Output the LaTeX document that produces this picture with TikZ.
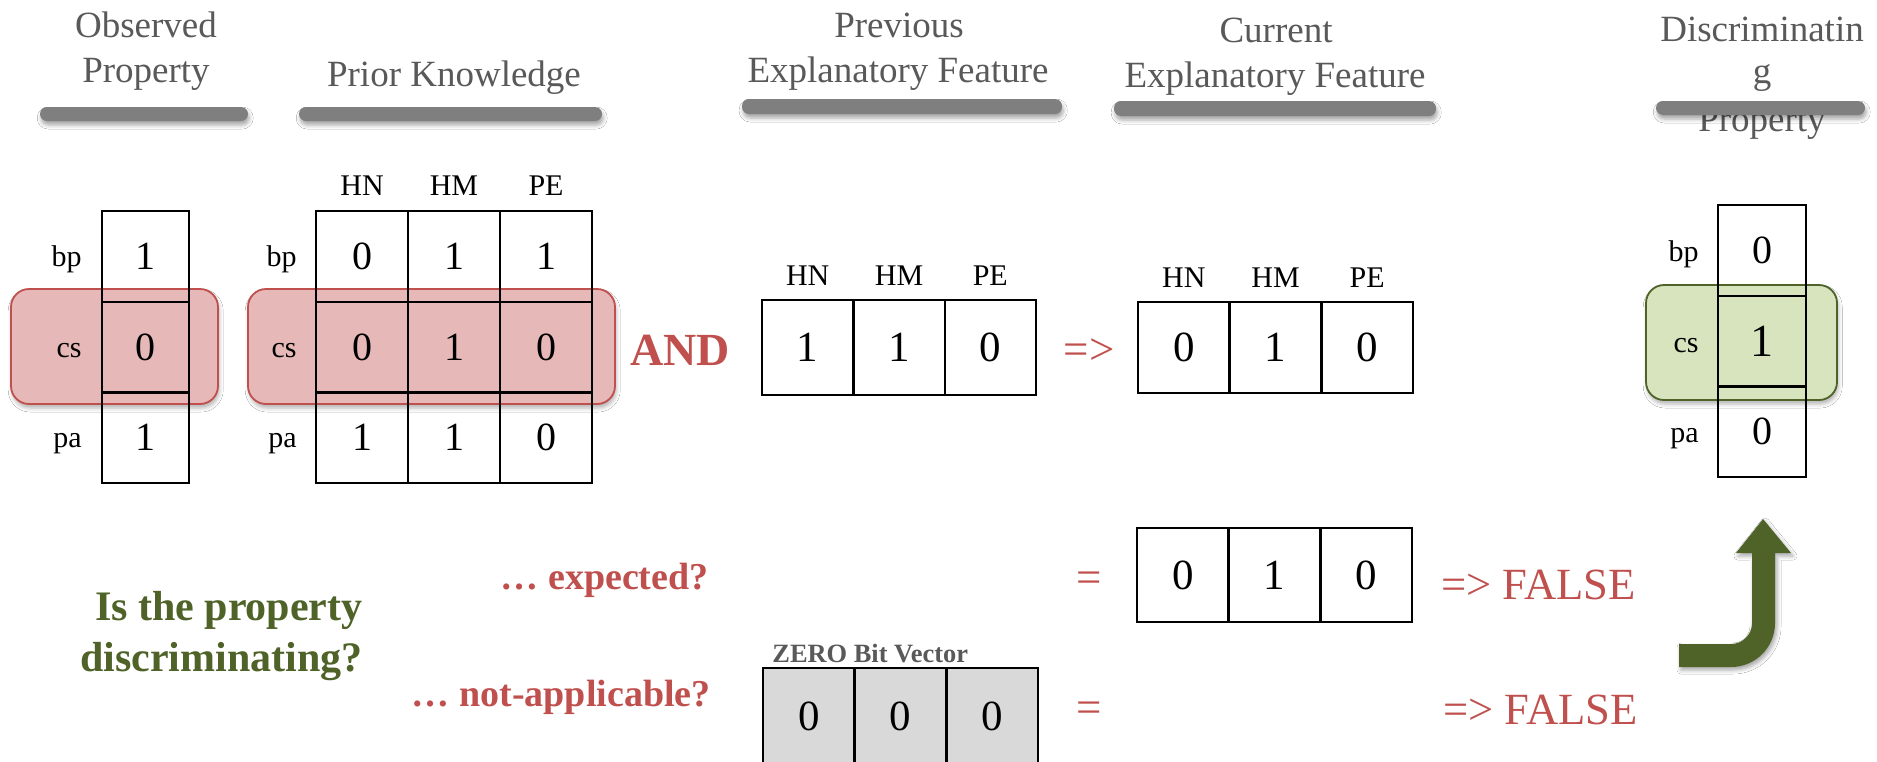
\documentclass[tikz,border=0pt]{standalone}
\usepackage{fontspec}
\setmainfont{Liberation Serif}
\usetikzlibrary{shadows.blur}

\definecolor{titlegray}{HTML}{595959}
\definecolor{bargray}{HTML}{7F7F7F}
\definecolor{accred}{HTML}{C0504D}
\definecolor{redfill}{HTML}{E6B8B7}
\definecolor{accgreen}{HTML}{4F6228}
\definecolor{greenfill}{HTML}{D7E4BD}
\definecolor{zerofill}{HTML}{D9D9D9}

\tikzset{
  title/.style={font=\fontsize{18.5}{22}\selectfont, text=titlegray, anchor=base, inner sep=0pt},
  titlebar/.style={fill=bargray, rounded corners=3.5pt,
    blur shadow={shadow xshift=0.6pt, shadow yshift=-2pt, shadow blur radius=2pt, shadow opacity=35}},
  redbox/.style={fill=redfill, draw=accred, line width=0.9pt, rounded corners=9pt,
    blur shadow={shadow xshift=0.6pt, shadow yshift=-2pt, shadow blur radius=2pt, shadow opacity=30}},
  greenbox/.style={fill=greenfill, draw=accgreen, line width=0.9pt, rounded corners=9pt,
    blur shadow={shadow xshift=0.6pt, shadow yshift=-2pt, shadow blur radius=2pt, shadow opacity=30}},
  cell/.style={draw=black, line width=1.1pt, rectangle, inner sep=0pt},
  sidecell/.style={cell, minimum width=#1, minimum height=45.3pt, font=\fontsize{20}{24}\selectfont},
  midcell/.style={cell, minimum width=45.7pt, font=\fontsize{21.5}{25}\selectfont},
  rowlabel/.style={font=\fontsize{15}{18}\selectfont, anchor=base east, inner sep=0pt},
  colhead/.style={font=\fontsize{15}{18}\selectfont, anchor=base, inner sep=0pt},
  optext/.style={text=accred, inner sep=0pt},
  question/.style={font=\bfseries\fontsize{19}{23}\selectfont, text=accred, anchor=base east, inner sep=0pt},
}

\begin{document}
\begin{tikzpicture}[x=0.5pt,y=-0.5pt]
\clip (0,0) rectangle (1877,761);
\fill[white] (0,0) rectangle (1877,761);

% ---------- column titles ----------
\node[title] (t1a) at (146,37) {Observed};
\node[title] (t1b) at (146,82) {Property};
\node[title] (t2) at (454,86) {Prior Knowledge};
\node[title] (t3a) at (899,37) {Previous};
\node[title] (t3b) at (898,82) {Explanatory Feature};
\node[title] (t4a) at (1276,42) {Current};
\node[title] (t4b) at (1275,87) {Explanatory Feature};
\node[title] (t5a) at (1762,41) {Discriminatin};
\node[title] (t5b) at (1762,83) {g};
\node[title] (t5c) at (1762,131) {Property};

\path[titlebar] (40,107) rectangle (248,121);
\path[titlebar] (299,107) rectangle (602,121);
\path[titlebar] (742,99) rectangle (1062,114);
\path[titlebar] (1114,101) rectangle (1436,116);
\path[titlebar] (1656,101) rectangle (1865,115);

% ---------- highlighted rows ----------
\path[redbox] (11,289) rectangle (218,404);
\path[redbox] (248,289) rectangle (615,404);
\path[greenbox] (1646,285) rectangle (1837,400);

% ---------- observed property ----------
\node[sidecell=43.5pt] (o1) at (145.5,256.3) {1};
\node[sidecell=43.5pt] (o2) at (145.5,347) {0};
\node[sidecell=43.5pt] (o3) at (145.5,437.7) {1};
\node[rowlabel] (ol1) at (82,266) {bp};
\node[rowlabel] (ol2) at (82,357) {cs};
\node[rowlabel] (ol3) at (82,447) {pa};

% ---------- prior knowledge ----------
\node[colhead] (ph1) at (362,195) {HN};
\node[colhead] (ph2) at (454,195) {HM};
\node[colhead] (ph3) at (546,195) {PE};
\node[sidecell=46pt] (p11) at (362,256.3) {0};
\node[sidecell=46pt] (p12) at (454,256.3) {1};
\node[sidecell=46pt] (p13) at (546,256.3) {1};
\node[sidecell=46pt] (p21) at (362,347) {0};
\node[sidecell=46pt] (p22) at (454,347) {1};
\node[sidecell=46pt] (p23) at (546,347) {0};
\node[sidecell=46pt] (p31) at (362,437.7) {1};
\node[sidecell=46pt] (p32) at (454,437.7) {1};
\node[sidecell=46pt] (p33) at (546,437.7) {0};
\node[rowlabel] (pl1) at (297,266) {bp};
\node[rowlabel] (pl2) at (297,357) {cs};
\node[rowlabel] (pl3) at (297,447) {pa};

\node[optext, font=\bfseries\fontsize{23}{27}\selectfont, anchor=base] (and) at (680,365) {AND};

% ---------- previous explanatory feature ----------
\node[colhead] (vh1) at (807.7,285) {HN};
\node[colhead] (vh2) at (899,285) {HM};
\node[colhead] (vh3) at (990.3,285) {PE};
\node[midcell, minimum height=47.5pt] (v1) at (807.7,347.5) {1};
\node[midcell, minimum height=47.5pt] (v2) at (899,347.5) {1};
\node[midcell, minimum height=47.5pt] (v3) at (990.3,347.5) {0};

\node[optext, font=\fontsize{22.5}{27}\selectfont, anchor=base] (imp) at (1089,364) {=>};

% ---------- current explanatory feature ----------
\node[colhead] (ch1) at (1183.8,287) {HN};
\node[colhead] (ch2) at (1275.5,287) {HM};
\node[colhead] (ch3) at (1367.2,287) {PE};
\node[midcell, minimum height=45.5pt] (c1) at (1183.8,347.5) {0};
\node[midcell, minimum height=45.5pt] (c2) at (1275.5,347.5) {1};
\node[midcell, minimum height=45.5pt] (c3) at (1367.2,347.5) {0};

% ---------- discriminating property ----------
\node[sidecell=44pt] (d1) at (1762,250.3) {0};
\node[sidecell=44pt, font=\fontsize{23}{27}\selectfont] (d2) at (1762,341) {1};
\node[sidecell=44pt] (d3) at (1762,431.7) {0};
\node[rowlabel] (dl1) at (1699,261) {bp};
\node[rowlabel] (dl2) at (1699,352) {cs};
\node[rowlabel] (dl3) at (1699,442) {pa};

% ---------- the question ----------
\node[font=\bfseries\fontsize{21}{25}\selectfont, text=accgreen, anchor=base east, inner sep=0pt] (q1) at (363,620) {Is the property};
\node[font=\bfseries\fontsize{21}{25}\selectfont, text=accgreen, anchor=base east, inner sep=0pt] (q2) at (363,671) {discriminating?};

\node[question] (qe) at (709,589) {… expected?};
\node[question] (qn) at (711,706) {… not-applicable?};

% expected case
\node[optext, font=\fontsize{22.5}{27}\selectfont, anchor=base] (eq1) at (1089,592) {=};
\node[midcell, minimum height=47pt] (e1) at (1182.8,575) {0};
\node[midcell, minimum height=47pt] (e2) at (1274.5,575) {1};
\node[midcell, minimum height=47pt] (e3) at (1366.2,575) {0};
\node[optext, font=\fontsize{22.3}{27}\selectfont, anchor=base west] (f1) at (1441,599) {=> FALSE};

% not-applicable case
\node[font=\bfseries\fontsize{13.2}{16}\selectfont, text=titlegray, anchor=base west, inner sep=0pt] (zl) at (772,662) {ZERO Bit Vector};
\node[midcell, minimum height=48pt, fill=zerofill] (z1) at (808.8,716) {0};
\node[midcell, minimum height=48pt, fill=zerofill] (z2) at (900.5,716) {0};
\node[midcell, minimum height=48pt, fill=zerofill] (z3) at (992.2,716) {0};
\node[optext, font=\fontsize{22.5}{27}\selectfont, anchor=base] (eq2) at (1089,722) {=};
\node[optext, font=\fontsize{22.3}{27}\selectfont, anchor=base west] (f2) at (1443,724) {=> FALSE};

% ---------- bent arrow ----------
\fill[accgreen, blur shadow={shadow xshift=1pt, shadow yshift=-1.5pt, shadow blur radius=2pt, shadow opacity=35}]
  (1679,644) -- (1731,644) .. controls (1742.6,644) and (1752,634.6) .. (1752,623)
  -- (1752,553) -- (1736,553) -- (1763,519) -- (1791,553) -- (1775,553) -- (1775,623)
  .. controls (1775,647.3) and (1755.3,667) .. (1731,667) -- (1679,667) -- cycle;
\end{tikzpicture}
\end{document}
